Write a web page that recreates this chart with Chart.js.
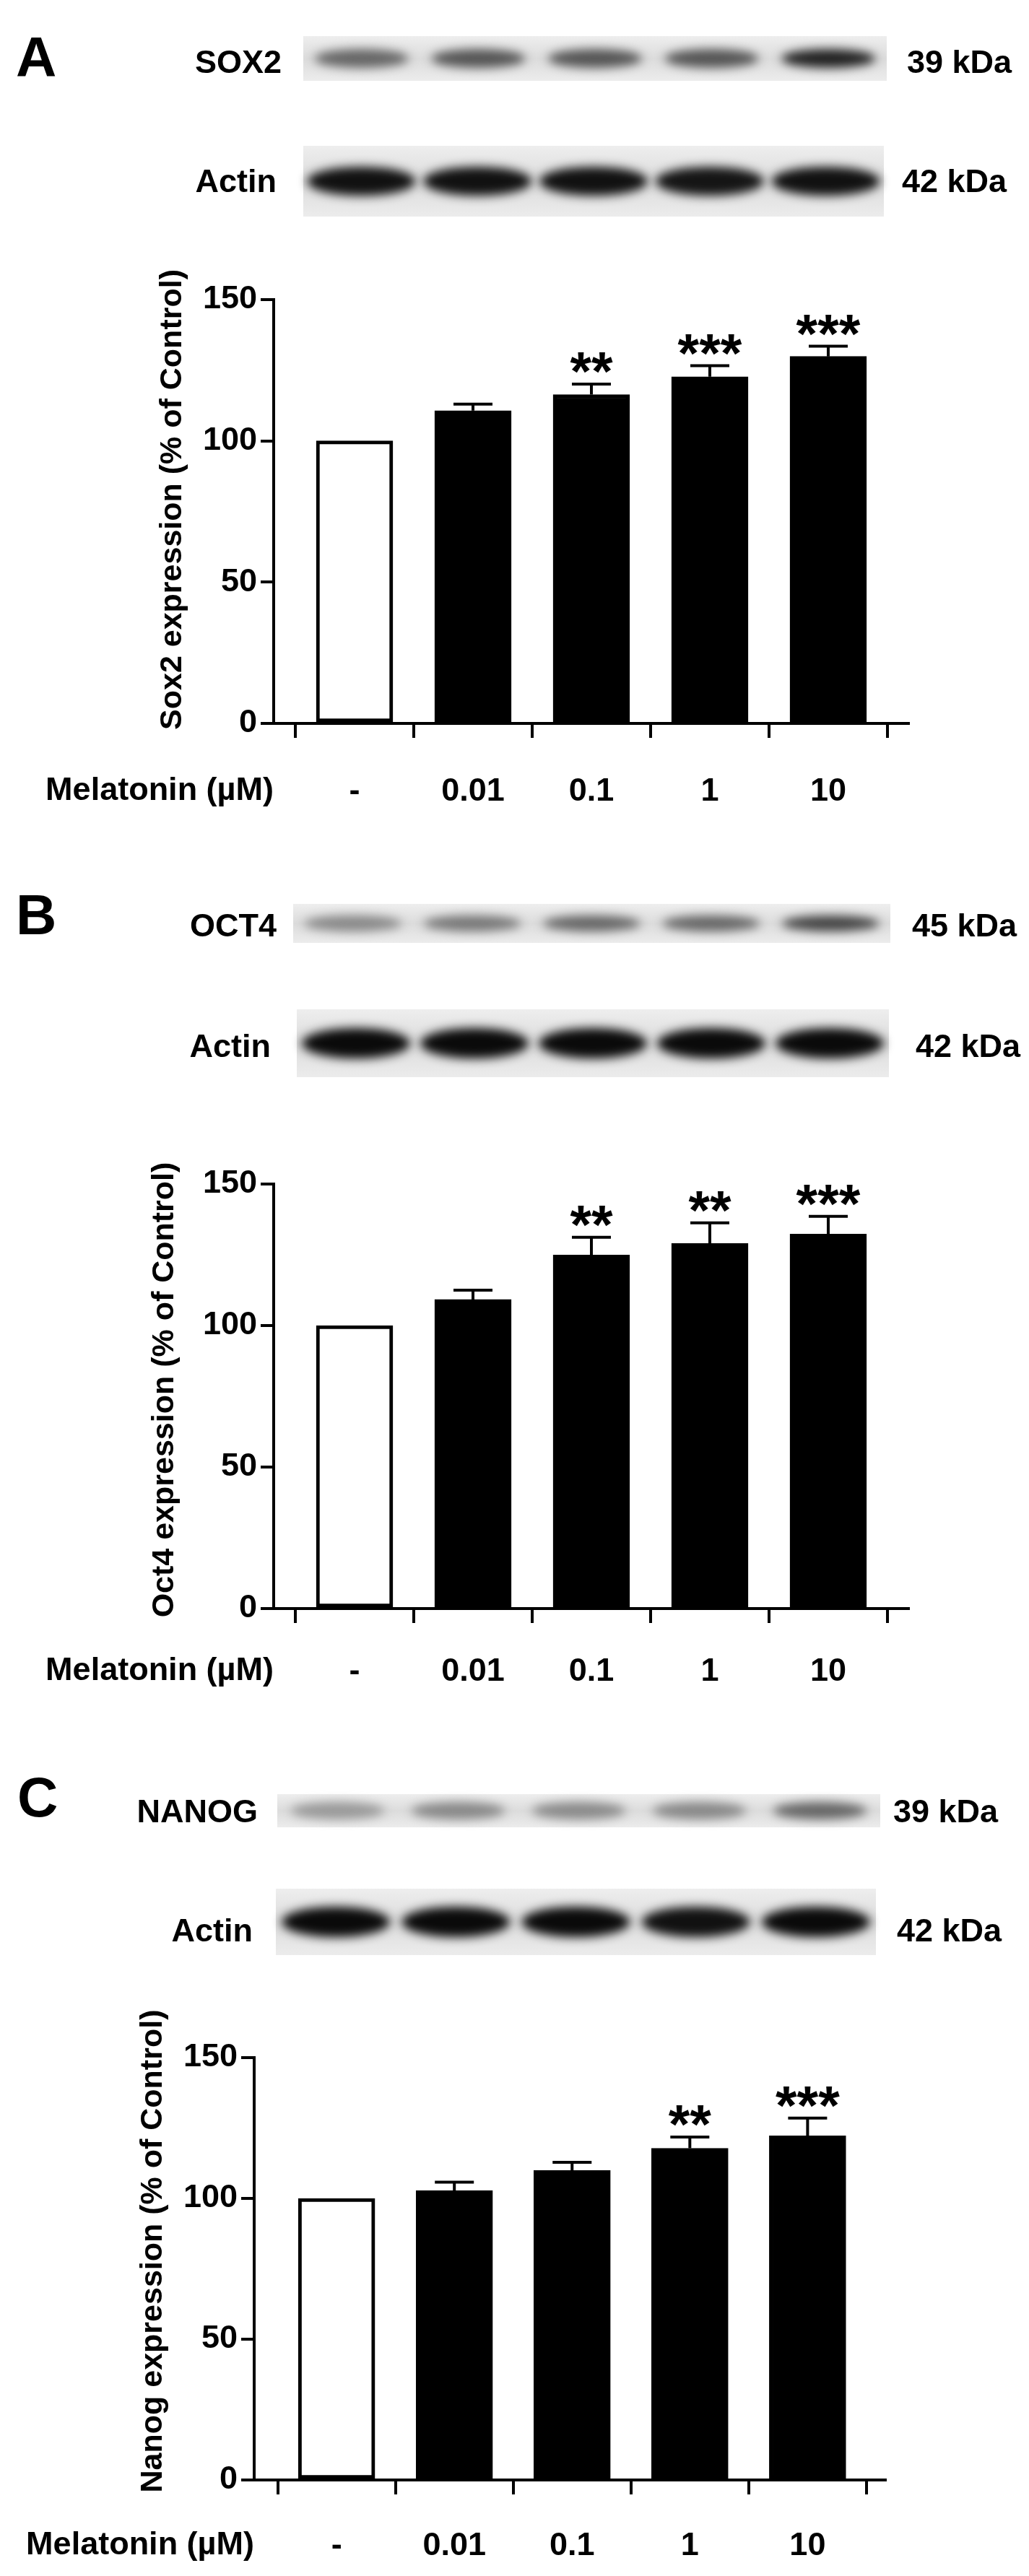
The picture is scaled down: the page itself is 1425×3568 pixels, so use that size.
<!DOCTYPE html>
<html><head><meta charset="utf-8">
<script src="https://cdn.jsdelivr.net/npm/chart.js@4.4.1/dist/chart.umd.min.js"></script>
<style>
html,body{margin:0;padding:0;background:#fff;}
#page{position:relative;width:1425px;height:3568px;overflow:hidden;font-family:"Liberation Sans",Arial,sans-serif;font-weight:bold;color:#000;}
.t{position:absolute;white-space:nowrap;font-size:45px;line-height:1;transform:translateY(-50%);}
.r{transform:translate(-100%,-50%);}
.L{position:absolute;font-size:78px;line-height:1;}
canvas{position:absolute;left:0;}
</style></head><body><div id="page">
<canvas id="blots" width="1425" height="3568" style="top:0"></canvas>
<canvas id="cA" style="top:295px"></canvas>
<canvas id="cB" style="top:1520px"></canvas>
<canvas id="cC" style="top:2730px"></canvas>
</div>
<script>
// ---- data ----
const doseLabels = ['-', '0.01', '0.1', '1', '10'];
const sox2Mean = [100, 110.7, 116.4, 122.7, 129.9];
const sox2Sem  = [0, 2.3, 3.7, 3.9, 3.6];
const sox2Sig  = ['', '', '**', '***', '***'];
const oct4Mean = [100, 109.2, 124.9, 129.0, 132.3];
const oct4Sem  = [0, 3.3, 6.3, 7.3, 6.3];
const oct4Sig  = ['', '', '**', '**', '***'];
const nanogMean = [100, 102.8, 109.9, 117.8, 122.2];
const nanogSem  = [0, 3.0, 2.9, 4.0, 6.3];
const nanogSig  = ['', '', '', '**', '***'];
const yTicks = [0, 50, 100, 150];

const page = document.getElementById('page');
function txt(s, x, y, right, cls) {
  const d = document.createElement('div');
  d.className = cls || ('t' + (right ? ' r' : ''));
  d.textContent = s; d.style.left = x + 'px'; d.style.top = y + 'px';
  page.appendChild(d);
}
// panel letters
txt('A', 22, 40, false, 'L'); txt('B', 22, 1228, false, 'L'); txt('C', 24, 2450, false, 'L');
// blot labels
txt('SOX2', 390, 85, true); txt('39 kDa', 1256, 85);
txt('Actin', 383, 250, true); txt('42 kDa', 1249, 250);
txt('OCT4', 383, 1281, true); txt('45 kDa', 1263, 1281);
txt('Actin', 375, 1448, true); txt('42 kDa', 1268, 1448);
txt('NANOG', 357, 2508, true); txt('39 kDa', 1237, 2508);
txt('Actin', 350, 2673, true); txt('42 kDa', 1242, 2673);

// ---- blot pictures (decorative) ----
const bc = document.getElementById('blots').getContext('2d');
function blot(x0, x1, y0, y1, bandH, bandW, shades) {
  const g = bc.createLinearGradient(0, y0, 0, y1);
  g.addColorStop(0, '#eeeeee'); g.addColorStop(0.5, '#dcdcdc'); g.addColorStop(1, '#ececec');
  bc.fillStyle = g; bc.fillRect(x0, y0, x1 - x0, y1 - y0);
  const cy = (y0 + y1) / 2;
  bc.save(); bc.filter = 'blur(7px)';
  shades.forEach((c, i) => {
    const cx = x0 + (x1 - x0) * (0.1 + 0.2 * i);
    bc.fillStyle = c; bc.beginPath();
    bc.ellipse(cx, cy, bandW / 2, bandH / 2, 0, 0, Math.PI * 2); bc.fill();
  });
  bc.restore();
}
blot(420, 1228, 50, 112, 26, 130, ['#666', '#555', '#555', '#555', '#222']);
blot(420, 1224, 202, 300, 40, 150, ['#111', '#111', '#111', '#151515', '#111']);
blot(406, 1233, 1252, 1306, 22, 135, ['#888', '#777', '#666', '#666', '#444']);
blot(411, 1231, 1398, 1492, 42, 150, ['#0a0a0a', '#0a0a0a', '#0a0a0a', '#0a0a0a', '#0a0a0a']);
blot(384, 1219, 2485, 2531, 24, 130, ['#999', '#888', '#8a8a8a', '#888', '#666']);
blot(382, 1213, 2616, 2708, 42, 150, ['#0a0a0a', '#0a0a0a', '#0a0a0a', '#111', '#0a0a0a']);

// ---- charts ----
const F = '"Liberation Sans", Arial, sans-serif';
const errPlugin = {
  id: 'err',
  afterDatasetsDraw(chart, args, o) {
    const ctx = chart.ctx, xs = chart.scales.x, ys = chart.scales.y;
    ctx.save();
    o.mean.forEach((m, i) => {
      const cx = xs.getPixelForValue(i);
      const top = ys.getPixelForValue(m), e = ys.getPixelForValue(m + o.sem[i]);
      if (o.sem[i] > 0) {
        ctx.strokeStyle = '#000'; ctx.lineWidth = 4;
        ctx.beginPath(); ctx.moveTo(cx, top); ctx.lineTo(cx, e);
        ctx.moveTo(cx - 27, e); ctx.lineTo(cx + 27, e); ctx.stroke();
      }
      if (o.sig[i]) {
        ctx.fillStyle = '#000'; ctx.font = 'bold 76px ' + F;
        ctx.textAlign = 'center'; ctx.textBaseline = 'alphabetic';
        ctx.fillText(o.sig[i], cx, e + 8);
      }
    });
    // row label and y title
    ctx.font = 'bold 45px ' + F; ctx.textAlign = 'right'; ctx.textBaseline = 'middle';
    ctx.fillText('Melatonin (µM)', xs.left, o.labelY);
    ctx.translate(o.titleX, o.titleY); ctx.rotate(-Math.PI / 2);
    ctx.font = 'bold 43px ' + F; ctx.textAlign = 'center';
    ctx.fillText(o.title, 0, 0);
    ctx.restore();
  }
};
function make(id, mean, sem, sig, title, cfg) {
  const cv = document.getElementById(id);
  cv.width = 1425; cv.height = cfg.h;
  new Chart(cv, {
    type: 'bar',
    data: { datasets: [{
      data: mean.map((v, i) => ({ x: i, y: v })),
      backgroundColor: mean.map((v, i) => i === 0 ? '#fff' : '#000'),
      borderColor: '#000', borderWidth: 5, borderSkipped: false,
      barThickness: 106
    }] },
    options: {
      responsive: false, animation: false, devicePixelRatio: 1,
      layout: { padding: { top: 120, right: 1425 - cfg.right, left: 0, bottom: 0 } },
      plugins: { legend: { display: false }, tooltip: { enabled: false },
        err: { mean, sem, sig, title, labelY: cfg.labelY, titleX: cfg.titleX, titleY: cfg.titleY } },
      scales: {
        x: {
          type: 'linear', min: cfg.xmin, max: cfg.xmax, offset: false,
          afterBuildTicks: s => { s.ticks = doseLabels.map((l, i) => ({ value: i })); },
          afterFit: s => { s.height = cfg.xh; },
          ticks: { callback: (v) => doseLabels[v], color: '#000', font: { family: F, size: 45, weight: 'bold' }, padding: cfg.pad, maxRotation: 0, autoSkip: false },
          grid: { drawOnChartArea: false, drawTicks: true, tickLength: 20, color: '#000', lineWidth: 4 },
          border: { color: '#000', width: 4 }
        },
        y: {
          min: 0, max: 150,
          afterBuildTicks: s => { s.ticks = yTicks.map(v => ({ value: v })); },
          afterFit: s => { s.width = cfg.left; },
          ticks: { color: '#000', font: { family: F, size: 45, weight: 'bold' }, padding: 5 },
          grid: { drawOnChartArea: false, tickLength: 18, color: '#000', lineWidth: 4 },
          border: { color: '#000', width: 4 }
        }
      }
    },
    plugins: [errPlugin]
  });
}
make('cA', sox2Mean, sox2Sem, sox2Sig, 'Sox2 expression (% of Control)',
  { h: 845, left: 379, right: 1258, xmin: -0.683, xmax: 4.677, xh: 845 - 120 - 587, pad: 48, labelY: 1096 - 295, titleX: 239, titleY: 692 - 295 });
make('cB', oct4Mean, oct4Sem, oct4Sig, 'Oct4 expression (% of Control)',
  { h: 840, left: 379, right: 1258, xmin: -0.683, xmax: 4.677, xh: 840 - 120 - 588, pad: 41, labelY: 2315 - 1520, titleX: 228, titleY: 1925 - 1520 });
make('cC', nanogMean, nanogSem, nanogSig, 'Nanog expression (% of Control)',
  { h: 838, left: 352, right: 1226, xmin: -0.70, xmax: 4.66, xh: 838 - 120 - 585, pad: 45, labelY: 3526 - 2730, titleX: 212, titleY: 3118 - 2730 });
</script></body></html>
